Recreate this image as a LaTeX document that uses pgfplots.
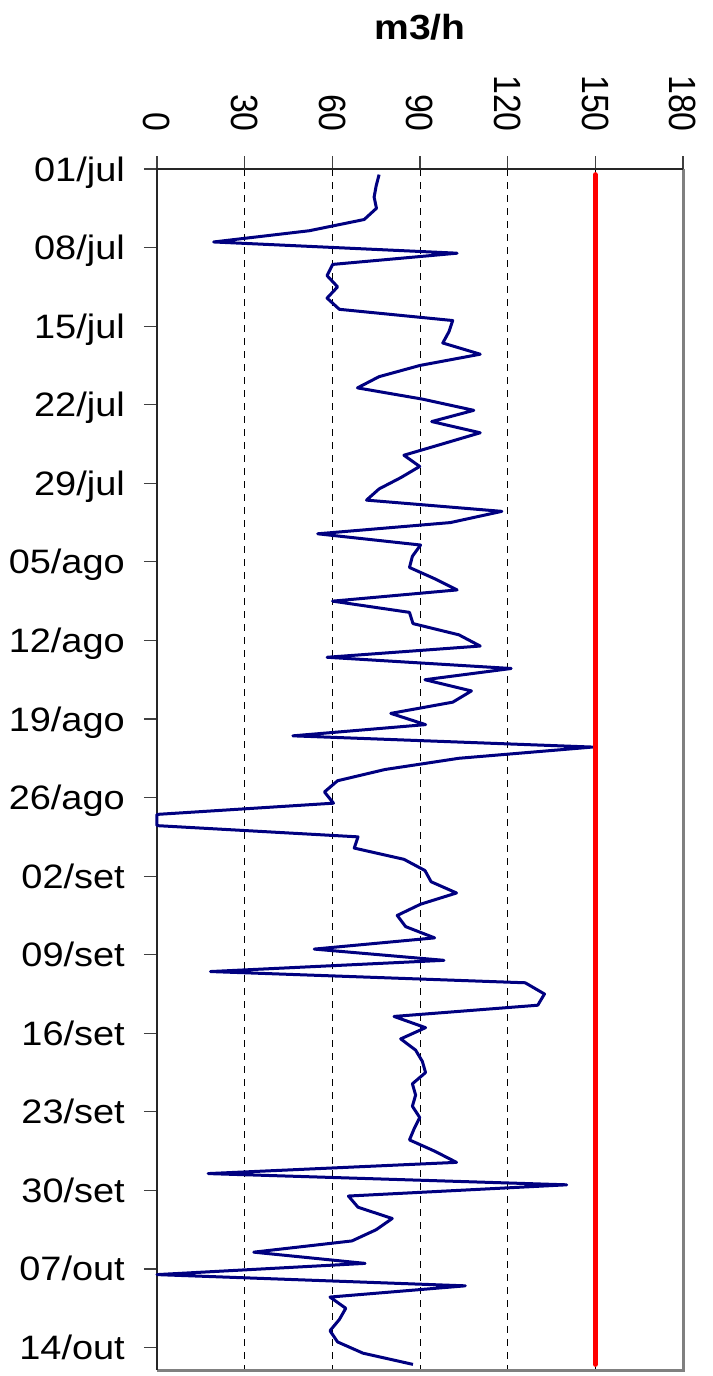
\documentclass[border=0pt]{standalone}
\usepackage{pgfplots}
\usepackage{pgfplotstable}
\pgfplotsset{compat=1.18}
\usepackage{fontspec}
\setmainfont{Liberation Sans}
\usepackage{graphicx}
\definecolor{navyline}{RGB}{0,0,128}
\definecolor{framegray}{RGB}{128,128,128}
\newcommand\hs[1]{\scalebox{1.12}[1]{#1}}
\newcommand\vs[1]{\scalebox{1}[1.12]{#1}}
\pgfplotstableread{
y v
0.5 76.0
1.5 75.0
2.5 74.3
3.5 75.1
4.5 70.9
5.5 52.1
6.5 19.4
7.5 102.7
8.5 60.1
9.5 58.2
10.5 61.8
11.5 58.2
12.5 62.4
13.5 101.2
14.5 99.9
15.5 97.8
16.5 110.6
17.5 90.0
18.5 76.0
19.5 68.6
20.5 90.8
21.5 108.4
22.5 94.0
23.5 110.6
24.5 97.6
25.5 84.5
26.5 89.9
27.5 83.4
28.5 76.0
29.5 71.7
30.5 118.0
31.5 100.4
32.5 55.0
33.5 90.2
34.5 87.4
35.5 86.4
36.5 95.0
37.5 102.7
38.5 60.1
39.5 86.4
40.5 87.6
41.5 103.3
42.5 110.6
43.5 58.2
44.5 121.2
45.5 91.7
46.5 107.6
47.5 101.2
48.5 80.0
49.5 91.9
50.5 46.5
51.5 149.0
52.5 103.3
53.5 78.0
54.5 61.8
55.5 57.3
56.5 60.4
57.5 0.0
58.5 0.0
59.5 68.8
60.5 67.5
61.5 84.5
62.5 91.7
63.5 93.8
64.5 102.5
65.5 90.2
66.5 82.2
67.5 85.1
68.5 95.0
69.5 53.8
70.5 98.2
71.5 18.3
72.5 126.0
73.5 132.6
74.5 130.3
75.5 81.1
76.5 91.9
77.5 83.4
78.5 88.5
79.5 90.8
80.5 91.9
81.5 87.4
82.5 88.5
83.5 87.4
84.5 89.9
85.5 88.0
86.5 86.4
87.5 95.0
88.5 102.5
89.5 17.5
90.5 140.2
91.5 65.5
92.5 68.8
93.5 80.5
94.5 75.0
95.5 66.7
96.5 33.1
97.5 71.2
98.5 0.0
99.5 105.5
100.5 59.2
101.5 64.6
102.5 62.4
103.5 59.2
104.5 61.8
105.5 70.5
106.5 87.6
}\flowtable
\pgfplotstableread{
y v
0.5 150
106.5 150
}\limittable
\begin{document}
\begin{tikzpicture}
\useasboundingbox (-157bp,-6bp) rectangle (556bp,1370bp);
\begin{axis}[
  at={(0,0)}, anchor=south west,
  scale only axis, width=526bp, height=1201bp,
  xmin=0, xmax=180, ymin=0, ymax=107, y dir=reverse,
  clip=false,
  xtick={0,30,60,90,120,150,180},
  xticklabels={\vs{0},\vs{30},\vs{60},\vs{90},\vs{120},\vs{150},\vs{180}},
  xtick pos=upper, xticklabel pos=upper,
  ytick={0,7,...,105},
  yticklabels={\hs{01/jul},\hs{08/jul},\hs{15/jul},\hs{22/jul},\hs{29/jul},\hs{05/ago},\hs{12/ago},\hs{19/ago},\hs{26/ago},\hs{02/set},\hs{09/set},\hs{16/set},\hs{23/set},\hs{30/set},\hs{07/out},\hs{14/out}},
  ytick pos=left,
  tick align=outside, major tick length=13bp,
  tick style={black!75, line width=1.2bp},
  xmajorgrids, grid style={black, dash pattern=on 7bp off 6bp, line width=0.9bp},
  axis line style={draw=none},
  xticklabel style={yshift=24bp, rotate=-90, anchor=east, inner sep=0pt, font=\fontsize{34}{40}\selectfont},
  yticklabel style={anchor=base east, xshift=-19bp, yshift=-12bp, inner sep=0pt, font=\fontsize{34}{40}\selectfont},
  title={\hs{m3/h}},
  title style={at={(0.5,1)}, anchor=base, yshift=124bp, inner sep=0pt, font=\fontsize{35}{40}\selectfont\bfseries},
]
\draw[framegray, line width=3bp] (axis cs:180,0) -- (axis cs:180,107) -- (axis cs:0,107);
\draw[black!85, line width=1.6bp] (axis cs:0,107) -- (axis cs:0,0) -- (axis cs:180,0);
\addplot[navyline, line width=3bp, line join=round, mark=none] table[x=v, y=y] {\flowtable};
\addplot[red, line width=5bp, line cap=round, mark=none] table[x=v, y=y] {\limittable};
\end{axis}
\end{tikzpicture}
\end{document}
